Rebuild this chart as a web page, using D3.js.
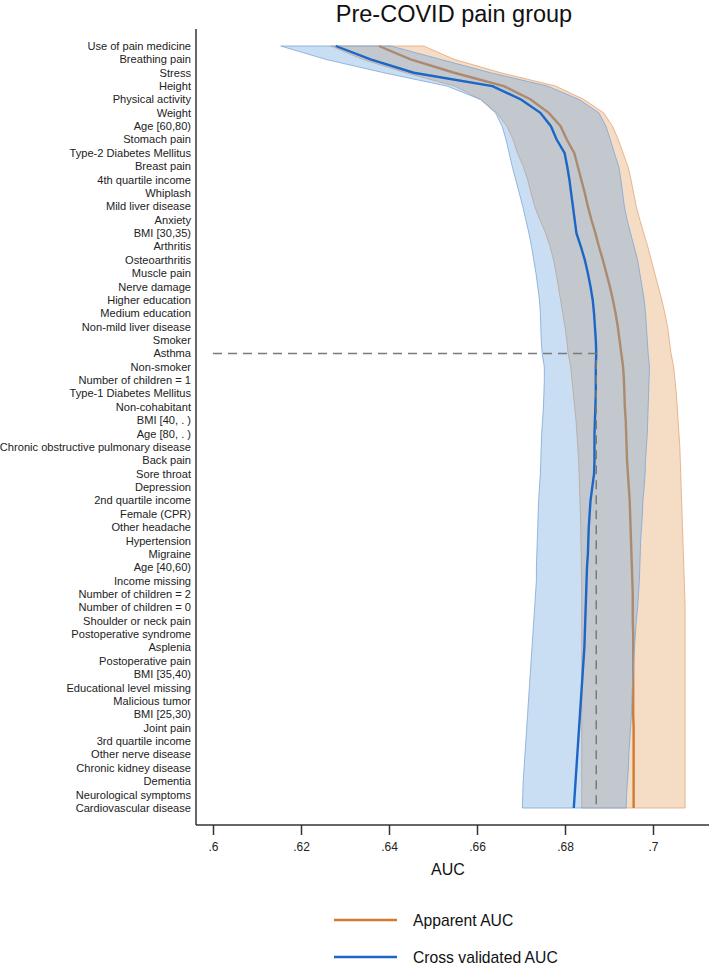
<!DOCTYPE html>
<html>
<head>
<meta charset="utf-8">
<script src="https://cdn.jsdelivr.net/npm/d3@7"></script>
<style>
  body { margin: 0; background: #fff; }
  svg { display: block; font-family: "Liberation Sans", Arial, sans-serif; }
</style>
</head>
<body>
<svg id="chart" width="709" height="965"></svg>
<script>
var labels = ["Use of pain medicine", "Breathing pain", "Stress", "Height", "Physical activity",
  "Weight", "Age [60,80)", "Stomach pain", "Type-2 Diabetes Mellitus", "Breast pain",
  "4th quartile income", "Whiplash", "Mild liver disease", "Anxiety", "BMI [30,35)",
  "Arthritis", "Osteoarthritis", "Muscle pain", "Nerve damage", "Higher education",
  "Medium education", "Non-mild liver disease", "Smoker", "Asthma", "Non-smoker",
  "Number of children = 1", "Type-1 Diabetes Mellitus", "Non-cohabitant", "BMI [40, . )", "Age [80, . )",
  "Chronic obstructive pulmonary disease", "Back pain", "Sore throat", "Depression", "2nd quartile income",
  "Female (CPR)", "Other headache ", "Hypertension", "Migraine", "Age [40,60)",
  "Income missing", "Number of children = 2", "Number of children = 0", "Shoulder or neck pain", "Postoperative syndrome",
  "Asplenia", "Postoperative pain", "BMI [35,40)", "Educational level missing", "Malicious tumor",
  "BMI [25,30)", "Joint pain", "3rd quartile income", "Other nerve disease", "Chronic kidney disease",
  "Dementia", "Neurological symptoms", "Cardiovascular disease"];

// apparent AUC: mean and band
var apMean = [0.6377, 0.6449, 0.6548, 0.6661, 0.6722, 0.6763, 0.6790, 0.6804, 0.6821, 0.6829,
  0.6837, 0.6845, 0.6852, 0.6860, 0.6869, 0.6877, 0.6886, 0.6894, 0.6902, 0.6909,
  0.6915, 0.6920, 0.6924, 0.6928, 0.6932, 0.6934, 0.6935, 0.6936, 0.6938, 0.6939,
  0.6940, 0.6941, 0.6943, 0.6945, 0.6947, 0.6948, 0.6949, 0.6950, 0.6951, 0.6952,
  0.6953, 0.6954, 0.6954, 0.6954, 0.6955, 0.6955, 0.6955, 0.6955, 0.6955, 0.6955,
  0.6955, 0.6956, 0.6956, 0.6956, 0.6956, 0.6956, 0.6956, 0.6956];
var apLo = [0.6268, 0.6340, 0.6438, 0.6550, 0.6608, 0.6645, 0.6668, 0.6682, 0.6692, 0.6705,
  0.6715, 0.6723, 0.6731, 0.6743, 0.6756, 0.6766, 0.6774, 0.6780, 0.6785, 0.6790,
  0.6795, 0.6800, 0.6804, 0.6807, 0.6813, 0.6816, 0.6819, 0.6822, 0.6825, 0.6827,
  0.6829, 0.6831, 0.6832, 0.6833, 0.6834, 0.6835, 0.6836, 0.6836, 0.6837, 0.6837,
  0.6838, 0.6838, 0.6838, 0.6838, 0.6838, 0.6838, 0.6838, 0.6838, 0.6838, 0.6838,
  0.6838, 0.6838, 0.6838, 0.6838, 0.6838, 0.6838, 0.6838, 0.6838];
var apHi = [0.6479, 0.6548, 0.6654, 0.6779, 0.6843, 0.6888, 0.6908, 0.6921, 0.6932, 0.6943,
  0.6950, 0.6956, 0.6962, 0.6970, 0.6979, 0.6988, 0.6996, 0.7004, 0.7012, 0.7020,
  0.7027, 0.7033, 0.7037, 0.7041, 0.7047, 0.7050, 0.7053, 0.7055, 0.7057, 0.7059,
  0.7061, 0.7062, 0.7063, 0.7064, 0.7065, 0.7066, 0.7067, 0.7068, 0.7069, 0.7070,
  0.7071, 0.7072, 0.7073, 0.7073, 0.7073, 0.7073, 0.7073, 0.7073, 0.7073, 0.7073,
  0.7073, 0.7073, 0.7073, 0.7073, 0.7073, 0.7073, 0.7073, 0.7073];

// cross validated AUC: mean and band
var cvMean = [0.6279, 0.6358, 0.6456, 0.6635, 0.6700, 0.6744, 0.6768, 0.6781, 0.6799, 0.6805,
  0.6810, 0.6814, 0.6818, 0.6822, 0.6826, 0.6836, 0.6845, 0.6852, 0.6858, 0.6863,
  0.6866, 0.6868, 0.6870, 0.6871, 0.6870, 0.6870, 0.6870, 0.6869, 0.6868, 0.6867,
  0.6867, 0.6867, 0.6866, 0.6862, 0.6858, 0.6856, 0.6854, 0.6853, 0.6852, 0.6850,
  0.6849, 0.6848, 0.6847, 0.6846, 0.6845, 0.6844, 0.6842, 0.6840, 0.6838, 0.6836,
  0.6834, 0.6832, 0.6830, 0.6828, 0.6826, 0.6824, 0.6822, 0.6820];
var cvLo = [0.6154, 0.6256, 0.6388, 0.6532, 0.6608, 0.6642, 0.6657, 0.6666, 0.6673, 0.6680,
  0.6688, 0.6696, 0.6704, 0.6711, 0.6718, 0.6724, 0.6729, 0.6734, 0.6738, 0.6742,
  0.6744, 0.6745, 0.6746, 0.6748, 0.6753, 0.6753, 0.6752, 0.6751, 0.6749, 0.6747,
  0.6746, 0.6745, 0.6744, 0.6742, 0.6740, 0.6739, 0.6738, 0.6737, 0.6736, 0.6735,
  0.6735, 0.6733, 0.6731, 0.6729, 0.6727, 0.6725, 0.6723, 0.6721, 0.6719, 0.6717,
  0.6715, 0.6713, 0.6711, 0.6709, 0.6707, 0.6705, 0.6704, 0.6703];
var cvHi = [0.6404, 0.6517, 0.6631, 0.6760, 0.6832, 0.6877, 0.6893, 0.6903, 0.6912, 0.6922,
  0.6927, 0.6931, 0.6935, 0.6941, 0.6949, 0.6957, 0.6965, 0.6970, 0.6975, 0.6980,
  0.6983, 0.6985, 0.6987, 0.6989, 0.6992, 0.6991, 0.6990, 0.6989, 0.6988, 0.6987,
  0.6985, 0.6983, 0.6982, 0.6980, 0.6977, 0.6976, 0.6974, 0.6972, 0.6971, 0.6970,
  0.6969, 0.6967, 0.6965, 0.6962, 0.6960, 0.6958, 0.6956, 0.6955, 0.6953, 0.6952,
  0.6951, 0.6949, 0.6947, 0.6945, 0.6944, 0.6942, 0.6940, 0.6939];

var xTicks = [0.6, 0.62, 0.64, 0.66, 0.68, 0.7];
var legendNames = ["Apparent AUC", "Cross validated AUC"];

var svg = d3.select("#chart");
var x = d3.scaleLinear().domain([0.6, 0.7]).range([213, 653]);
var y = d3.scalePoint().domain(labels).range([46, 808]);

var orangeLine = "#d27a2e", blueLine = "#1b66c6";

function band(lo, hi){
  return d3.area()
    .x0(function(d, i){ return x(lo[i]); })
    .x1(function(d, i){ return x(hi[i]); })
    .y(function(d){ return y(d); });
}
function line(v){
  return d3.line()
    .x(function(d, i){ return x(v[i]); })
    .y(function(d){ return y(d); });
}

// apparent band + line, then cross validated on top
svg.append("path").attr("d", band(apLo, apHi)(labels))
  .attr("fill", "rgb(226,155,89)").attr("fill-opacity", 0.35)
  .attr("stroke", "#e2a777").attr("stroke-width", 0.8);
svg.append("path").attr("d", line(apMean)(labels))
  .attr("fill", "none").attr("stroke", orangeLine).attr("stroke-width", 2.4);
svg.append("path").attr("d", band(cvLo, cvHi)(labels))
  .attr("fill", "rgb(109,166,223)").attr("fill-opacity", 0.37)
  .attr("stroke", "#7ea6d8").attr("stroke-width", 0.8);
svg.append("path").attr("d", line(cvMean)(labels))
  .attr("fill", "none").attr("stroke", blueLine).attr("stroke-width", 2.4);

// reference lines at maximum cross validated AUC
var best = d3.maxIndex(cvMean);
svg.append("path")
  .attr("d", "M" + x(0.6) + "," + y(labels[best]) + "H" + x(cvMean[best]) + "V" + y(labels[labels.length - 1]))
  .attr("fill", "none").attr("stroke", "#7a7a7a").attr("stroke-width", 1.5)
  .attr("stroke-dasharray", "9,6");

// axes
svg.append("line").attr("x1", 196).attr("x2", 196).attr("y1", 29).attr("y2", 825)
  .attr("stroke", "#333").attr("stroke-width", 1.5);
svg.append("line").attr("x1", 196).attr("x2", 709).attr("y1", 825).attr("y2", 825)
  .attr("stroke", "#333").attr("stroke-width", 1.5);

var xAxis = svg.append("g").attr("transform", "translate(0,825)")
  .call(d3.axisBottom(x).tickValues(xTicks).tickSize(10).tickPadding(7)
    .tickFormat(function(d){ return d3.format("~g")(d).replace(/^0/, ""); }));
xAxis.select(".domain").remove();
xAxis.selectAll("line").attr("stroke", "#333").attr("stroke-width", 1.5);
xAxis.selectAll("text").attr("font-size", 12).attr("fill", "#222")
  .style("font-family", "'Liberation Sans', Arial, sans-serif");

svg.append("g").selectAll("text").data(labels).enter().append("text")
  .attr("x", 191).attr("y", function(d){ return y(d); }).attr("dy", "0.35em")
  .attr("text-anchor", "end").attr("font-size", 11.1).attr("fill", "#222")
  .text(function(d){ return d; });

svg.append("text").attr("x", 454).attr("y", 22).attr("text-anchor", "middle")
  .attr("font-size", 23.5).attr("fill", "#111").text("Pre-COVID pain group");
svg.append("text").attr("x", 448).attr("y", 869).attr("dy", "0.35em").attr("text-anchor", "middle")
  .attr("font-size", 16).attr("fill", "#111").text("AUC");

// legend
var leg = svg.append("g").selectAll("g").data(legendNames).enter().append("g")
  .attr("transform", function(d, i){ return "translate(0," + (920 + i * 37) + ")"; });
leg.append("line").attr("x1", 334).attr("x2", 397)
  .attr("stroke", function(d, i){ return i == 0 ? orangeLine : blueLine; }).attr("stroke-width", 2.4);
leg.append("text").attr("x", 413).attr("dy", "0.35em").attr("font-size", 15.7).attr("fill", "#111")
  .text(function(d){ return d; });
</script>
</body>
</html>
